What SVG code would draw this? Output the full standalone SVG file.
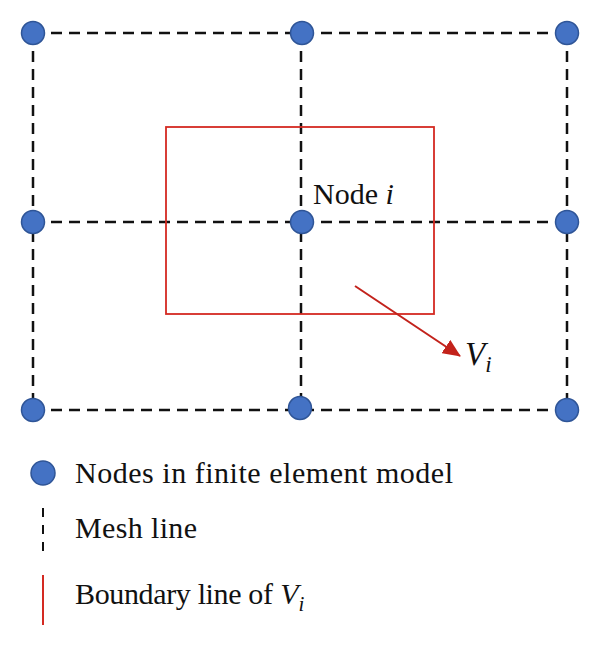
<svg xmlns="http://www.w3.org/2000/svg" width="600" height="647" viewBox="0 0 600 647">
<style>
.mesh{stroke:#111;stroke-width:2.5;stroke-dasharray:11,7;fill:none}
.node{fill:#4472C4;stroke:#2F5597;stroke-width:1.5}
.red{stroke:#D42A22;fill:none;stroke-width:1.8}
.t{font-family:"Liberation Serif",serif;fill:#111}
</style>
<defs>
<marker id="ah" viewBox="0 0 18 16" refX="17" refY="8" markerWidth="18" markerHeight="16" markerUnits="userSpaceOnUse" orient="auto">
<path d="M0,0 L18,8 L0,16 z" fill="#C3221B"/>
</marker>
</defs>
<rect width="600" height="647" fill="#fff"/>
<g id="connectors">
<line class="mesh" x1="33" y1="33" x2="567" y2="33"/>
<line class="mesh" x1="33" y1="222" x2="567" y2="222"/>
<line class="mesh" x1="33" y1="410" x2="567" y2="410"/>
<line class="mesh" x1="33" y1="33" x2="33" y2="410"/>
<line class="mesh" x1="301" y1="33" x2="301" y2="410"/>
<line class="mesh" x1="567" y1="33" x2="567" y2="410"/>
</g>
<g id="boundary">
<rect class="red" x="166" y="127" width="268" height="187"/>
<line x1="355" y1="286" x2="460" y2="356" stroke="#C3221B" stroke-width="2" marker-end="url(#ah)"/>
</g>
<g id="nodes">
<circle id="n00" class="node" cx="33" cy="33" r="11.5"/>
<circle id="n01" class="node" cx="302" cy="33" r="11.5"/>
<circle id="n02" class="node" cx="567" cy="33" r="11.5"/>
<circle id="n10" class="node" cx="33" cy="222" r="11.5"/>
<circle id="n11" class="node" cx="302" cy="222" r="11.5"/>
<circle id="n12" class="node" cx="567" cy="222" r="11.5"/>
<circle id="n20" class="node" cx="33" cy="410" r="11.5"/>
<circle id="n21" class="node" cx="300" cy="408" r="11.5"/>
<circle id="n22" class="node" cx="567" cy="410" r="11.5"/>
</g>
<g id="labels">
<text class="t" x="313" y="204" font-size="30">Node <tspan font-style="italic">i</tspan></text>
<text class="t" x="465" y="365" font-size="33" font-style="italic">V<tspan font-size="23" dy="7">i</tspan></text>
</g>
<g id="legend">
<circle class="node" cx="43" cy="473" r="12"/>
<text class="t" x="75" y="483" font-size="30" textLength="378" lengthAdjust="spacing">Nodes in finite element model</text>
<line x1="43" y1="508" x2="43" y2="557" stroke="#111" stroke-width="2" stroke-dasharray="9,8"/>
<text class="t" x="75" y="538" font-size="30" textLength="122" lengthAdjust="spacing">Mesh line</text>
<line x1="43" y1="575" x2="43" y2="625" stroke="#D42A22" stroke-width="2"/>
<text class="t" x="75" y="604" font-size="30"><tspan textLength="198" lengthAdjust="spacing">Boundary line of</tspan> <tspan font-style="italic">V</tspan><tspan font-style="italic" font-size="21" dy="7">i</tspan></text>
</g>
</svg>
